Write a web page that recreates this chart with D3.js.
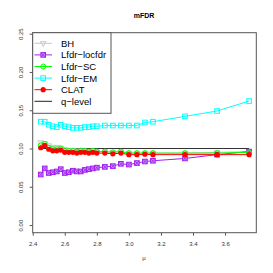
<!DOCTYPE html>
<html>
<head>
<meta charset="utf-8">
<script src="https://cdn.jsdelivr.net/npm/d3@7"></script>
<style>
  body { margin: 0; background: #fff; }
  text { font-family: "Liberation Sans", Arial, sans-serif; }
</style>
</head>
<body>
<div class="chart"></div>
<script>
// mu values on the x axis
var mu = [2.45, 2.475, 2.5, 2.525, 2.55, 2.575, 2.6, 2.625, 2.65, 2.675, 2.7, 2.725, 2.75,
  2.775, 2.8, 2.85, 2.9, 2.95, 3.0, 3.05, 3.1, 3.15, 3.35, 3.55, 3.75];

// mFDR of each method
var bh = [0.108, 0.107, 0.104, 0.102, 0.102, 0.101, 0.099, 0.098, 0.098, 0.097, 0.097, 0.097, 0.096,
  0.097, 0.096, 0.096, 0.095, 0.096, 0.094, 0.094, 0.094, 0.094, 0.094, 0.095, 0.096];
var locfdr = [0.066, 0.074, 0.068, 0.069, 0.070, 0.073, 0.068, 0.069, 0.071, 0.070, 0.070, 0.072, 0.073,
  0.074, 0.075, 0.076, 0.077, 0.080, 0.079, 0.081, 0.083, 0.084, 0.087, 0.092, 0.096];
var sc = [0.104, 0.106, 0.101, 0.099, 0.099, 0.100, 0.097, 0.097, 0.097, 0.096, 0.097, 0.097, 0.096,
  0.097, 0.096, 0.096, 0.095, 0.096, 0.094, 0.094, 0.094, 0.094, 0.094, 0.094, 0.095];
var em = [0.135, 0.135, 0.131, 0.129, 0.128, 0.131, 0.129, 0.128, 0.127, 0.127, 0.127, 0.128, 0.128,
  0.129, 0.129, 0.130, 0.130, 0.130, 0.130, 0.130, 0.134, 0.135, 0.142, 0.149, 0.162];
var clat = [0.101, 0.104, 0.099, 0.097, 0.097, 0.098, 0.095, 0.095, 0.095, 0.094, 0.095, 0.095, 0.094,
  0.095, 0.094, 0.094, 0.093, 0.094, 0.092, 0.092, 0.0925, 0.092, 0.092, 0.092, 0.092];
var qLevel = 0.1;

var xTicks = [2.4, 2.6, 2.8, 3.0, 3.2, 3.4, 3.6];
var yTicks = [0, 0.05, 0.10, 0.15, 0.20, 0.25];

var series = [
  { name: "BH", values: bh, color: "#c8c8c8", pch: "tri" },
  { name: "Lfdr\u2212locfdr", values: locfdr, color: "#a020f0", pch: "boxx" },
  { name: "Lfdr\u2212SC", values: sc, color: "#00ff00", pch: "circle" },
  { name: "Lfdr\u2212EM", values: em, color: "#00ffff", pch: "square" },
  { name: "CLAT", values: clat, color: "#ff0000", pch: "dot" }
];

var svgWidth = 273, svgHeight = 273;
var box = { left: 32.7, right: 256.3, top: 32.7, bottom: 232.7 };
var axisColor = "#555";

var svg = d3.select(".chart").append("svg")
  .attr("width", svgWidth)
  .attr("height", svgHeight);

var x = d3.scaleLinear().domain([2.398, 3.795]).range([box.left - 0.3, box.right]);
var y = d3.scaleLinear().domain([-0.01, 0.2513]).range([box.bottom, box.top]);

// x axis
var xAxis = svg.append("g")
  .attr("transform", `translate(0, ${box.bottom})`)
  .call(d3.axisBottom(x).tickValues(xTicks).tickSize(3).tickPadding(6.5).tickFormat(d3.format(".1f")));
xAxis.select(".domain").remove();
xAxis.selectAll("line").attr("stroke", axisColor);
xAxis.selectAll("text").attr("fill", "#333").style("font-size", "6px");

// y axis with rotated labels
var yAxis = svg.append("g")
  .attr("transform", `translate(${box.left}, 0)`)
  .call(d3.axisLeft(y).tickValues(yTicks).tickSize(3).tickFormat(d3.format(".2f")));
yAxis.select(".domain").remove();
yAxis.selectAll("line").attr("stroke", axisColor);
yAxis.selectAll("text")
  .attr("transform", "rotate(-90)")
  .attr("x", 0).attr("y", -10).attr("dy", 0)
  .style("text-anchor", "middle")
  .style("font-size", "6px")
  .attr("fill", "#333");

// plot frame
svg.append("rect")
  .attr("x", box.left).attr("y", box.top)
  .attr("width", box.right - box.left).attr("height", box.bottom - box.top)
  .attr("fill", "none").attr("stroke", axisColor).attr("stroke-width", 1);

// title and x label
svg.append("text").attr("x", 144).attr("y", 18.3)
  .style("text-anchor", "middle").style("font-size", "7px").style("font-weight", "bold")
  .text("mFDR");
svg.append("text").attr("x", 144).attr("y", 260)
  .style("text-anchor", "middle").style("font-size", "6px").attr("fill", "#333")
  .text("\u03bc");

// draw one point symbol, R style
function drawSymbol(g, pch, color, cx, cy) {
  var s = 2.3;
  if (pch === "tri") {
    g.append("path")
      .attr("d", `M${cx - 2.8},${cy - 1.6}L${cx + 2.8},${cy - 1.6}L${cx},${cy + 3.2}Z`)
      .attr("fill", "none").attr("stroke", color).attr("stroke-width", 1);
  } else if (pch === "boxx") {
    g.append("rect").attr("x", cx - s).attr("y", cy - s).attr("width", 2 * s).attr("height", 2 * s)
      .attr("fill", "#c890f8").attr("stroke", color).attr("stroke-width", 1);
    g.append("path")
      .attr("d", `M${cx - s},${cy - s}L${cx + s},${cy + s}M${cx - s},${cy + s}L${cx + s},${cy - s}`)
      .attr("stroke", color).attr("stroke-width", 0.8);
  } else if (pch === "circle") {
    g.append("circle").attr("cx", cx).attr("cy", cy).attr("r", 2.5)
      .attr("fill", "none").attr("stroke", color).attr("stroke-width", 1);
  } else if (pch === "square") {
    g.append("rect").attr("x", cx - s).attr("y", cy - s).attr("width", 2 * s).attr("height", 2 * s)
      .attr("fill", "none").attr("stroke", color).attr("stroke-width", 1);
  } else {
    g.append("circle").attr("cx", cx).attr("cy", cy).attr("r", 2.6)
      .attr("fill", color);
  }
}

var line = d3.line()
  .x((d, i) => x(mu[i]))
  .y(d => y(d));

// q-level reference
svg.append("line")
  .attr("x1", x(mu[0])).attr("x2", x(mu[mu.length - 1]))
  .attr("y1", y(qLevel)).attr("y2", y(qLevel))
  .attr("stroke", "#333").attr("stroke-width", 1);

series.forEach(function (s) {
  var g = svg.append("g");
  g.append("path")
    .datum(s.values)
    .attr("d", line)
    .attr("fill", "none")
    .attr("stroke", s.color)
    .attr("stroke-width", 1);
  s.values.forEach(function (v, i) {
    drawSymbol(g, s.pch, s.color, x(mu[i]), y(v));
  });
});

// legend
var legend = svg.append("g");
legend.append("rect")
  .attr("x", box.left).attr("y", box.top)
  .attr("width", 111 - box.left).attr("height", 113.3 - box.top)
  .attr("fill", "#fff").attr("stroke", axisColor).attr("stroke-width", 1);

var legendItems = series.map(s => ({ name: s.name, color: s.color, pch: s.pch }))
  .concat([{ name: "q\u2212level", color: "#222", pch: null }]);

legendItems.forEach(function (d, i) {
  var ly = 43.3 + i * 11.6;
  legend.append("line")
    .attr("x1", 34.5).attr("x2", 52).attr("y1", ly).attr("y2", ly)
    .attr("stroke", d.color).attr("stroke-width", 1);
  if (d.pch) drawSymbol(legend, d.pch, d.color, 43.2, ly);
  legend.append("text")
    .attr("x", 61).attr("y", ly + 3.4)
    .style("font-size", "9.5px")
    .text(d.name);
});
</script>
</body>
</html>
